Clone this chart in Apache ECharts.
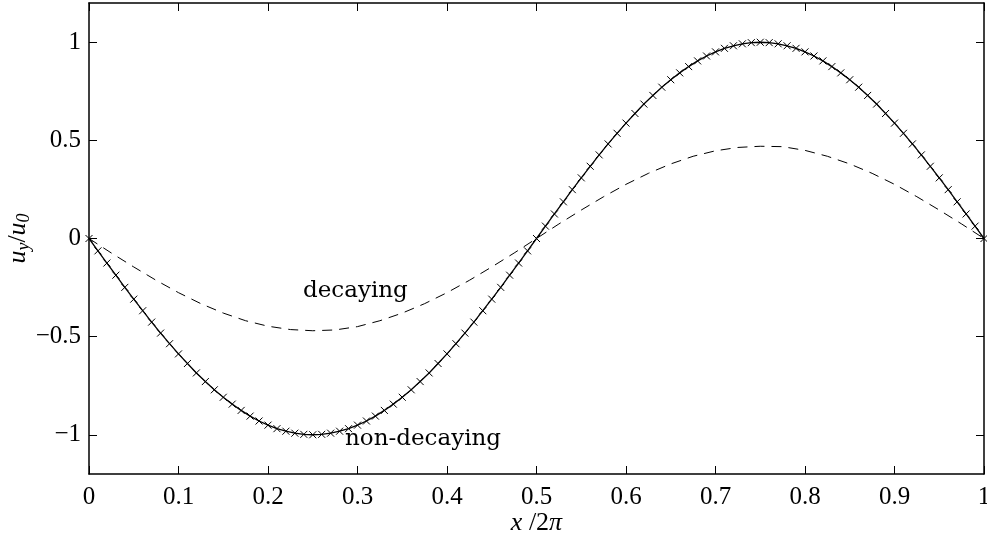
<!DOCTYPE html>
<html><head><meta charset="utf-8">
<script src="https://cdn.jsdelivr.net/npm/echarts@6/dist/echarts.min.js"></script>
<style>html,body{margin:0;padding:0;background:#fff;overflow:hidden}#c{width:987px;height:545px}</style>
</head><body><div id="c"></div>
<script>
// x positions of the non-decaying samples (x / 2pi)
const xFine = [];
for (let k = 0; k <= 100; k++) xFine.push(+(k / 100).toFixed(2));
// non-decaying mode u_y/u_0
const nonDecaying = [
 0,-0.063,-0.125,-0.187,-0.249,-0.309,-0.368,-0.426,-0.482,-0.536,
 -0.588,-0.637,-0.685,-0.729,-0.771,-0.809,-0.844,-0.876,-0.905,-0.930,
 -0.951,-0.969,-0.982,-0.992,-0.998,-1.000,-0.998,-0.992,-0.982,-0.969,
 -0.951,-0.930,-0.905,-0.876,-0.844,-0.809,-0.771,-0.729,-0.685,-0.637,
 -0.588,-0.536,-0.482,-0.426,-0.368,-0.309,-0.249,-0.187,-0.125,-0.063,
 0,0.063,0.125,0.187,0.249,0.309,0.368,0.426,0.482,0.536,
 0.588,0.637,0.685,0.729,0.771,0.809,0.844,0.876,0.905,0.930,
 0.951,0.969,0.982,0.992,0.998,1.000,0.998,0.992,0.982,0.969,
 0.951,0.930,0.905,0.876,0.844,0.809,0.771,0.729,0.685,0.637,
 0.588,0.536,0.482,0.426,0.368,0.309,0.249,0.187,0.125,0.063,0
];
// decaying mode, coarser samples
const xCoarse = [0,0.025,0.05,0.075,0.1,0.125,0.15,0.175,0.2,0.225,0.25,0.275,0.3,0.325,0.35,0.375,0.4,0.425,0.45,0.475,0.5,
 0.525,0.55,0.575,0.6,0.625,0.65,0.675,0.7,0.725,0.75,0.775,0.8,0.825,0.85,0.875,0.9,0.925,0.95,0.975,1];
const decaying = [0,-0.074,-0.145,-0.213,-0.276,-0.332,-0.380,-0.419,-0.447,-0.464,-0.470,-0.466,-0.449,-0.419,-0.380,-0.332,-0.276,-0.213,-0.145,-0.074,0,
 0.074,0.145,0.213,0.276,0.332,0.380,0.419,0.447,0.464,0.470,0.468,0.449,0.419,0.380,0.332,0.276,0.213,0.145,0.074,0];
const xTicks = [0,0.1,0.2,0.3,0.4,0.5,0.6,0.7,0.8,0.9,1];
const yTicks = [-1,-0.5,0,0.5,1];

const fmt = v => (v < 0 ? '\u2212' + Math.abs(v) : String(v));
const serif = 'Liberation Serif';
const axLine = {show:true, onZero:false, lineStyle:{color:'#000', width:1.5}};
const tick = {show:true, inside:true, length:8, lineStyle:{color:'#000', width:1}};

const chart = echarts.init(document.getElementById('c'), null, {renderer:'canvas'});
chart.setOption({
  animation:false,
  backgroundColor:'#fff',
  grid:{left:89, right:3, top:3, bottom:71, containLabel:false, outerBoundsMode:'none'},
  xAxis:[
    {type:'value', min:0, max:1, interval:0.1, position:'bottom',
     axisLine:axLine, axisTick:tick, splitLine:{show:false},
     axisLabel:{color:'#000', fontFamily:serif, fontSize:25, margin:11, formatter:v=>fmt(+v.toFixed(1))},
     name:'{i|x}{n| /2}{i|\u03c0}', nameLocation:'middle', nameGap:36, nameMoveOverlap:false,
     nameTextStyle:{rich:{i:{fontFamily:serif, fontStyle:'italic', fontSize:26, color:'#000'}, n:{fontFamily:serif, fontSize:26, color:'#000'}}}},
    {type:'value', min:0, max:1, interval:0.1, position:'top',
     axisLine:axLine, axisTick:tick, axisLabel:{show:false}, splitLine:{show:false}}
  ],
  yAxis:[
    {type:'value', min:-1.2, max:1.2, position:'left',
     axisLine:axLine, splitLine:{show:false},
     axisTick:Object.assign({customValues:yTicks}, tick),
     axisLabel:{customValues:yTicks, color:'#000', fontFamily:serif, fontSize:25, margin:8, formatter:v=>fmt(v)},
     name:'{i|u}{s|y}{n|/}{i|u}{s|0}', nameLocation:'middle', nameGap:56, nameRotate:90, nameMoveOverlap:false,
     nameTextStyle:{rich:{i:{fontFamily:serif, fontStyle:'italic', fontSize:26, color:'#000'},
       s:{fontFamily:serif, fontStyle:'italic', fontSize:18, color:'#000', verticalAlign:'bottom', padding:[12,0,0,0]},
       n:{fontFamily:serif, fontSize:26, color:'#000'}}}},
    {type:'value', min:-1.2, max:1.2, position:'right',
     axisLine:axLine, splitLine:{show:false},
     axisTick:Object.assign({customValues:yTicks}, tick), axisLabel:{show:false}}
  ],
  series:[
    {name:'decaying', type:'line', xAxisIndex:0, yAxisIndex:0,
     data:xCoarse.map((x,i)=>[x, decaying[i]]), showSymbol:false, symbol:'none',
     lineStyle:{color:'#000', width:1, type:[10,7]}, z:2},
    {name:'non-decaying', type:'line', xAxisIndex:0, yAxisIndex:0,
     data:xFine.map((x,i)=>[x, nonDecaying[i]]),
     symbol:'path://M0,0L10,10M10,0L0,10', symbolSize:7, showAllSymbol:true,
     itemStyle:{color:'rgba(0,0,0,0)', borderColor:'#000', borderWidth:1},
     lineStyle:{color:'#000', width:1.3}, z:3}
  ],
  graphic:[
    {type:'text', left:303, top:280, style:{text:'decaying', fill:'#000', font:'23px DejaVu Serif'}},
    {type:'text', left:345, top:428, style:{text:'non-decaying', fill:'#000', font:'23px DejaVu Serif'}}
  ]
});
</script></body></html>
